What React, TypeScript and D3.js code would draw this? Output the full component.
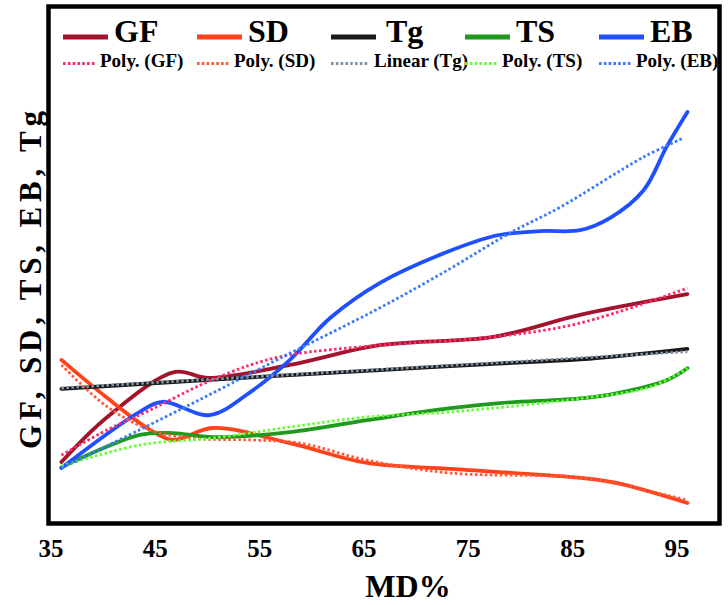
import React from 'react';
import * as d3 from 'd3';

// ---- data (x = MD %, y = relative property value, arbitrary units 0–100) ----
const xTicks = [35, 45, 55, 65, 75, 85, 95];
const seriesNames = ['GF', 'SD', 'Tg', 'TS', 'EB'];
const trendNames = ['Poly. (GF)', 'Poly. (SD)', 'Linear (Tg)', 'Poly. (TS)', 'Poly. (EB)'];

const gf: [number, number][] = [
  [36, 12.6], [40.4, 22.4], [46.9, 32.2], [50, 30.9], [57.9, 33.7],
  [66.5, 38.0], [77.4, 39.8], [85.7, 44.6], [96, 49.1],
];
const sd: [number, number][] = [
  [36, 34.8], [40.4, 26.5], [44.5, 19.6], [46.7, 17.4], [50.5, 20.0], [57.9, 16.7],
  [65.3, 12.4], [73.3, 11.1], [86.0, 9.1], [89.3, 8.0], [96, 3.7],
];
const tg: [number, number][] = [
  [36, 28.5], [46.7, 30.0], [57.9, 31.5], [66.5, 32.6], [77.8, 34.0], [85.7, 34.9], [96, 37.2],
];
const ts: [number, number][] = [
  [36, 11.5], [43.5, 18.5], [46.7, 18.9], [50.5, 18.0], [57.9, 19.1], [65.3, 21.7],
  [73.3, 24.3], [78.0, 25.4], [86.0, 26.5], [89.3, 27.6], [94.0, 30.4], [96, 33.0],
];
const eb: [number, number][] = [
  [36, 11.3], [43.5, 23.5], [45.7, 25.7], [50.2, 22.8], [54.1, 27.8], [57.9, 34.8],
  [61.75, 43.9], [66.5, 51.5], [73.0, 58.3], [77.8, 61.9], [81.9, 62.8],
  [85.7, 63.0], [88.6, 65.7], [91.8, 71.7], [94.0, 81.1], [96, 88.7],
];

const polyGF: [number, number][] = [
  [36, 14.1], [40.4, 19.6], [44.5, 23.9], [49.3, 29.3], [54.1, 33.7], [57.9, 35.9],
  [66.5, 38.0], [77.4, 39.8], [85.7, 42.8], [96, 50.4],
];
const polySD: [number, number][] = [
  [36, 33.7], [40.4, 24.6], [44.5, 19.6], [48.3, 17.8], [54.1, 17.4], [58.9, 16.7],
  [65.3, 13.0], [73.3, 10.2], [86.0, 9.1], [94.0, 5.4], [96, 4.3],
];
const linearTg: [number, number][] = [[36, 28.7], [96, 36.6]];
const polyTS: [number, number][] = [
  [36, 11.7], [43.5, 16.3], [50.5, 17.8], [57.9, 20.2], [65.3, 22.4], [73.3, 23.5],
  [86.0, 26.5], [92.4, 28.9], [96, 33.0],
];
const polyEB: [number, number][] = [
  [36, 11.3], [43.5, 19.6], [50.5, 27.6], [57.0, 35.2], [66.5, 46.1], [73.0, 54.3],
  [79.0, 62.4], [83.8, 68.0], [91.8, 78.9], [95.6, 83.0],
];

const solidSeries = [gf, sd, tg, ts, eb];
const trendSeries = [polyGF, polySD, linearTg, polyTS, polyEB];

// ---- styles ----
const solidColors = ['#a3142c', '#ff4219', '#1a1a1a', '#1f9a1f', '#1f4fff'];
const trendColors = ['#ff2a6d', '#ff5a3a', '#8393a3', '#66ff33', '#3c7bff'];
const FONT = "'Liberation Serif', 'Times New Roman', serif";

export default function App() {
  const x = d3.scaleLinear().domain([35, 95]).range([51, 677]);
  const y = d3.scaleLinear().domain([0, 100]).range([520, 60]);
  const line = d3
    .line<[number, number]>()
    .x((d) => x(d[0]))
    .y((d) => y(d[1]))
    .curve(d3.curveCatmullRom.alpha(0.5));

  const legendX = d3.scaleLinear().domain([0, 4]).range([63, 599]);

  return (
    <svg
      width={728}
      height={605}
      style={{ position: 'absolute', left: 0, top: 0, background: '#fff' }}
      fontFamily={FONT}
      fontWeight="bold"
    >
      <rect x={0} y={0} width={728} height={605} fill="#fff" />
      {/* frame */}
      <rect x={48.5} y={6.5} width={671} height={517} fill="none" stroke="#000" strokeWidth={4.5} />

      {/* solid series */}
      {solidSeries.map((s, i) => (
        <path
          key={'s' + i}
          d={line(s) || ''}
          fill="none"
          stroke={solidColors[i]}
          strokeWidth={3.8}
          strokeLinecap="round"
        />
      ))}
      {/* trend lines */}
      {trendSeries.map((s, i) => (
        <path
          key={'t' + i}
          d={line(s) || ''}
          fill="none"
          stroke={trendColors[i]}
          strokeWidth={2.8}
          strokeDasharray="2.6 2.4"
        />
      ))}

      {/* legend row 1 */}
      {seriesNames.map((n, i) => {
        const lx = legendX(i);
        return (
          <g key={'l' + i}>
            <line x1={lx} x2={lx + 45} y1={37} y2={37} stroke={solidColors[i]} strokeWidth={5} />
            <text x={lx + (n === 'Tg' ? 55 : 51)} y={42} fontSize={32} fill="#000">
              {n}
            </text>
          </g>
        );
      })}
      {/* legend row 2 */}
      {trendNames.map((n, i) => {
        const lx = legendX(i);
        const len = i === 2 ? 38 : 32;
        return (
          <g key={'p' + i}>
            <line
              x1={lx}
              x2={lx + len}
              y1={63.5}
              y2={63.5}
              stroke={trendColors[i]}
              strokeWidth={2.8}
              strokeDasharray="2.6 2.2"
            />
            <text x={lx + len + 5} y={67} fontSize={19} fill="#000">
              {n}
            </text>
          </g>
        );
      })}

      {/* x tick labels */}
      {xTicks.map((t) => (
        <text key={t} x={x(t)} y={557} fontSize={25} textAnchor="middle" fill="#000">
          {t}
        </text>
      ))}
      <text x={408} y={597} fontSize={32} textAnchor="middle" fill="#000">
        MD%
      </text>

      {/* y title */}
      <text
        transform="translate(41,280) rotate(-90)"
        fontSize={31}
        textAnchor="middle"
        fill="#000"
        textLength={338}
        lengthAdjust="spacing"
      >
        GF, SD, TS, EB, Tg
      </text>
    </svg>
  );
}
